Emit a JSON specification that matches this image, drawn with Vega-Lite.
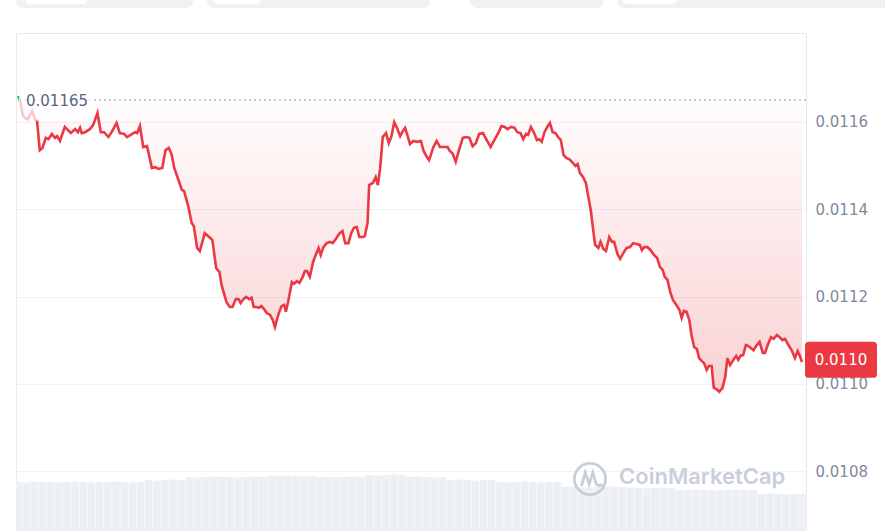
{
"$schema":"https://vega.github.io/schema/vega-lite/v6.json",
"width":790,"height":500,
"autosize":{"type":"none"},
"padding":{"left":16,"top":33,"right":79,"bottom":0},
"background":"#ffffff",
"config":{"view":{"stroke":"#e6e9ee","strokeWidth":1},"font":"DejaVu Sans"},
"datasets":{
"px":[{"t":0,"p":0.011659},{"t":3,"p":0.01165},{"t":4,"p":0.011647},{"t":9,"p":0.011615},{"t":13,"p":0.011608},{"t":18,"p":0.011606},{"t":26,"p":0.011624},{"t":31,"p":0.011606},{"t":35,"p":0.011602},{"t":40,"p":0.011535},{"t":45,"p":0.01154},{"t":51,"p":0.011563},{"t":56,"p":0.01156},{"t":62,"p":0.011572},{"t":68,"p":0.011563},{"t":72,"p":0.011567},{"t":77,"p":0.011556},{"t":86,"p":0.011588},{"t":97,"p":0.011574},{"t":105,"p":0.011583},{"t":110,"p":0.011576},{"t":114,"p":0.011586},{"t":117,"p":0.011574},{"t":123,"p":0.011576},{"t":132,"p":0.011583},{"t":138,"p":0.011592},{"t":146,"p":0.01162},{"t":152,"p":0.011576},{"t":158,"p":0.011576},{"t":166,"p":0.011565},{"t":172,"p":0.011576},{"t":181,"p":0.011597},{"t":187,"p":0.011574},{"t":195,"p":0.011572},{"t":200,"p":0.011565},{"t":207,"p":0.01157},{"t":215,"p":0.011576},{"t":219,"p":0.011574},{"t":224,"p":0.01159},{"t":230,"p":0.011542},{"t":237,"p":0.011544},{"t":246,"p":0.011494},{"t":252,"p":0.011496},{"t":258,"p":0.011492},{"t":265,"p":0.011494},{"t":271,"p":0.011535},{"t":277,"p":0.01154},{"t":282,"p":0.011526},{"t":287,"p":0.011494},{"t":293,"p":0.011473},{"t":301,"p":0.011444},{"t":305,"p":0.011441},{"t":313,"p":0.011405},{"t":319,"p":0.011368},{"t":323,"p":0.011361},{"t":329,"p":0.011311},{"t":334,"p":0.011304},{"t":343,"p":0.011345},{"t":353,"p":0.011334},{"t":357,"p":0.011329},{"t":364,"p":0.011265},{"t":370,"p":0.011256},{"t":374,"p":0.011226},{"t":383,"p":0.011187},{"t":389,"p":0.011176},{"t":394,"p":0.011176},{"t":400,"p":0.011194},{"t":405,"p":0.011194},{"t":409,"p":0.011185},{"t":414,"p":0.011194},{"t":419,"p":0.011199},{"t":425,"p":0.011194},{"t":429,"p":0.011197},{"t":433,"p":0.011176},{"t":438,"p":0.011176},{"t":443,"p":0.011174},{"t":447,"p":0.011178},{"t":452,"p":0.011171},{"t":457,"p":0.011162},{"t":463,"p":0.011158},{"t":468,"p":0.011146},{"t":472,"p":0.01113},{"t":478,"p":0.011158},{"t":484,"p":0.011178},{"t":489,"p":0.011181},{"t":492,"p":0.011165},{"t":496,"p":0.011187},{"t":503,"p":0.011233},{"t":507,"p":0.011229},{"t":512,"p":0.011235},{"t":517,"p":0.011231},{"t":523,"p":0.011245},{"t":527,"p":0.011258},{"t":531,"p":0.011258},{"t":536,"p":0.011245},{"t":542,"p":0.011279},{"t":549,"p":0.011302},{"t":552,"p":0.011311},{"t":556,"p":0.011295},{"t":561,"p":0.011313},{"t":567,"p":0.011322},{"t":573,"p":0.011325},{"t":578,"p":0.011322},{"t":584,"p":0.011332},{"t":591,"p":0.011345},{"t":596,"p":0.01135},{"t":601,"p":0.011322},{"t":607,"p":0.011322},{"t":612,"p":0.011345},{"t":617,"p":0.011357},{"t":622,"p":0.011359},{"t":627,"p":0.011336},{"t":634,"p":0.011336},{"t":637,"p":0.011338},{"t":642,"p":0.011368},{"t":645,"p":0.011455},{"t":652,"p":0.01146},{"t":657,"p":0.011473},{"t":661,"p":0.011455},{"t":665,"p":0.011492},{"t":670,"p":0.011565},{"t":676,"p":0.011574},{"t":681,"p":0.011551},{"t":686,"p":0.011567},{"t":691,"p":0.011599},{"t":696,"p":0.011586},{"t":702,"p":0.011567},{"t":707,"p":0.011579},{"t":711,"p":0.011586},{"t":715,"p":0.01157},{"t":720,"p":0.011549},{"t":726,"p":0.011556},{"t":733,"p":0.011554},{"t":740,"p":0.011556},{"t":745,"p":0.011533},{"t":751,"p":0.011519},{"t":755,"p":0.011512},{"t":763,"p":0.011542},{"t":769,"p":0.011556},{"t":775,"p":0.011542},{"t":781,"p":0.011542},{"t":789,"p":0.011542},{"t":793,"p":0.011533},{"t":798,"p":0.011528},{"t":804,"p":0.011508},{"t":810,"p":0.011535},{"t":817,"p":0.011563},{"t":823,"p":0.011565},{"t":829,"p":0.011563},{"t":835,"p":0.011544},{"t":841,"p":0.011551},{"t":847,"p":0.011572},{"t":854,"p":0.011574},{"t":860,"p":0.01156},{"t":868,"p":0.011542},{"t":876,"p":0.01156},{"t":882,"p":0.011574},{"t":888,"p":0.01159},{"t":894,"p":0.011588},{"t":899,"p":0.011583},{"t":906,"p":0.011588},{"t":912,"p":0.011586},{"t":917,"p":0.011576},{"t":923,"p":0.011574},{"t":928,"p":0.01156},{"t":933,"p":0.011572},{"t":937,"p":0.01157},{"t":942,"p":0.011588},{"t":948,"p":0.011574},{"t":953,"p":0.011558},{"t":957,"p":0.01156},{"t":962,"p":0.011554},{"t":967,"p":0.011576},{"t":972,"p":0.011588},{"t":977,"p":0.011597},{"t":982,"p":0.011576},{"t":987,"p":0.011574},{"t":992,"p":0.011565},{"t":997,"p":0.011558},{"t":1002,"p":0.011524},{"t":1007,"p":0.011517},{"t":1013,"p":0.011514},{"t":1019,"p":0.011506},{"t":1024,"p":0.011499},{"t":1028,"p":0.011503},{"t":1032,"p":0.011483},{"t":1038,"p":0.011473},{"t":1043,"p":0.01146},{"t":1047,"p":0.011432},{"t":1052,"p":0.011398},{"t":1056,"p":0.011357},{"t":1060,"p":0.011318},{"t":1066,"p":0.011311},{"t":1070,"p":0.011325},{"t":1075,"p":0.011309},{"t":1080,"p":0.011304},{"t":1086,"p":0.011336},{"t":1091,"p":0.011325},{"t":1095,"p":0.011325},{"t":1101,"p":0.011297},{"t":1106,"p":0.011286},{"t":1112,"p":0.0113},{"t":1118,"p":0.011311},{"t":1124,"p":0.011313},{"t":1130,"p":0.011322},{"t":1136,"p":0.01132},{"t":1142,"p":0.011318},{"t":1146,"p":0.011306},{"t":1150,"p":0.011313},{"t":1156,"p":0.011313},{"t":1162,"p":0.011306},{"t":1168,"p":0.011295},{"t":1174,"p":0.011288},{"t":1179,"p":0.011268},{"t":1184,"p":0.011261},{"t":1188,"p":0.011245},{"t":1193,"p":0.011238},{"t":1198,"p":0.01121},{"t":1203,"p":0.011192},{"t":1209,"p":0.011181},{"t":1215,"p":0.011169},{"t":1219,"p":0.011151},{"t":1223,"p":0.011167},{"t":1228,"p":0.011165},{"t":1233,"p":0.011146},{"t":1237,"p":0.011112},{"t":1242,"p":0.011084},{"t":1247,"p":0.01108},{"t":1251,"p":0.011059},{"t":1256,"p":0.011052},{"t":1260,"p":0.011048},{"t":1265,"p":0.011032},{"t":1269,"p":0.011041},{"t":1274,"p":0.011041},{"t":1278,"p":0.010991},{"t":1283,"p":0.010988},{"t":1288,"p":0.010982},{"t":1294,"p":0.010991},{"t":1299,"p":0.011016},{"t":1303,"p":0.011059},{"t":1308,"p":0.011043},{"t":1314,"p":0.011055},{"t":1319,"p":0.011064},{"t":1323,"p":0.011055},{"t":1327,"p":0.011064},{"t":1332,"p":0.011066},{"t":1337,"p":0.011089},{"t":1341,"p":0.011087},{"t":1346,"p":0.011082},{"t":1351,"p":0.011077},{"t":1356,"p":0.011087},{"t":1362,"p":0.011096},{"t":1368,"p":0.011071},{"t":1372,"p":0.011071},{"t":1377,"p":0.011089},{"t":1383,"p":0.011107},{"t":1388,"p":0.011103},{"t":1394,"p":0.011112},{"t":1399,"p":0.011107},{"t":1404,"p":0.0111},{"t":1409,"p":0.011103},{"t":1415,"p":0.011089},{"t":1421,"p":0.011077},{"t":1427,"p":0.011059},{"t":1432,"p":0.011075},{"t":1436,"p":0.011064},{"t":1440,"p":0.01105}],
"vol":[{"t":0,"v":102},{"t":15,"v":101},{"t":30,"v":103},{"t":45,"v":102},{"t":60,"v":102},{"t":75,"v":101},{"t":90,"v":102},{"t":105,"v":103},{"t":120,"v":102},{"t":135,"v":101},{"t":150,"v":102},{"t":165,"v":102},{"t":180,"v":103},{"t":195,"v":102},{"t":210,"v":101},{"t":225,"v":102},{"t":240,"v":106},{"t":255,"v":105},{"t":270,"v":106},{"t":285,"v":107},{"t":300,"v":106},{"t":315,"v":112},{"t":330,"v":111},{"t":345,"v":112},{"t":360,"v":113},{"t":375,"v":112},{"t":390,"v":112},{"t":405,"v":111},{"t":420,"v":112},{"t":435,"v":113},{"t":450,"v":112},{"t":465,"v":114},{"t":480,"v":114},{"t":495,"v":115},{"t":510,"v":114},{"t":525,"v":113},{"t":540,"v":114},{"t":555,"v":112},{"t":570,"v":112},{"t":585,"v":111},{"t":600,"v":112},{"t":615,"v":113},{"t":630,"v":112},{"t":645,"v":116},{"t":660,"v":115},{"t":675,"v":116},{"t":690,"v":117},{"t":705,"v":116},{"t":720,"v":112},{"t":735,"v":113},{"t":750,"v":112},{"t":765,"v":111},{"t":780,"v":112},{"t":795,"v":106},{"t":810,"v":107},{"t":825,"v":106},{"t":840,"v":105},{"t":855,"v":106},{"t":870,"v":106},{"t":885,"v":102},{"t":900,"v":101},{"t":915,"v":102},{"t":930,"v":103},{"t":945,"v":102},{"t":960,"v":101},{"t":975,"v":102},{"t":990,"v":102},{"t":1005,"v":92},{"t":1020,"v":93},{"t":1035,"v":92},{"t":1050,"v":91},{"t":1065,"v":92},{"t":1080,"v":92},{"t":1095,"v":93},{"t":1110,"v":92},{"t":1125,"v":91},{"t":1140,"v":90},{"t":1155,"v":89},{"t":1170,"v":90},{"t":1185,"v":91},{"t":1200,"v":90},{"t":1215,"v":86},{"t":1230,"v":86},{"t":1245,"v":87},{"t":1260,"v":86},{"t":1275,"v":85},{"t":1290,"v":86},{"t":1305,"v":86},{"t":1320,"v":87},{"t":1335,"v":86},{"t":1350,"v":86},{"t":1365,"v":78},{"t":1380,"v":79},{"t":1395,"v":78},{"t":1410,"v":77},{"t":1425,"v":78},{"t":1440,"v":78}],
"open":[{"t":0,"p":0.01165,"label":"0.01165"}],
"last":[{"t":1440,"p":0.011055,"label":"0.0110"}],
"logo":[{"t":1050.6,"p":0.0107824}],
"wm":[{"t":1104,"p":0.010787,"label":"CoinMarketCap"}],
"tabs":[{"t1":-3.7,"t2":321.4},{"t1":347.1,"t2":756.7},{"t1":830.2,"t2":1076.3},{"t1":1100.2,"t2":1640}],
"tabsel":[{"t1":12.9,"t2":128.6},{"t1":356.3,"t2":448.2},{"t1":1109.4,"t2":1212.2}]
},
"layer":[
{"data":{"name":"vol"},"mark":{"type":"bar","color":"#eceff3","size":7.6,"clip":true},
 "encoding":{"x":{"field":"t","type":"quantitative","scale":{"domain":[-3.673,1447.35],"nice":false,"zero":false,"padding":0},"axis":null},
 "y":{"field":"v","type":"quantitative","scale":{"domain":[0,1000]},"axis":null}}},
{"data":{"name":"px"},"transform":[{"filter":"datum.t >= 3"}],
 "mark":{"type":"area","clip":true,"color":{"gradient":"linear","x1":0,"y1":0,"x2":0,"y2":1,"stops":[{"offset":0,"color":"rgba(234,57,67,0.01)"},{"offset":1,"color":"rgba(234,57,67,0.23)"}]}},
 "encoding":{"x":{"field":"t","type":"quantitative","axis":null},
  "y":{"field":"p","type":"quantitative","scale":{"domain":[0.0106588,0.011803],"nice":false,"zero":false},
    "axis":{"orient":"right","title":null,"values":[0.0108,0.011,0.0112,0.0114,0.0116],"format":".4f","grid":true,"gridColor":"#eff2f5","gridWidth":1,"domain":false,"ticks":false,"labelPadding":9,"labelFont":"DejaVu Sans","labelFontSize":15,"labelColor":"#7f899c"}},
  "y2":{"datum":0.01165}}},
{"data":{"name":"open"},"mark":{"type":"rule","color":"#a3acba","strokeDash":[2,3],"strokeWidth":1.2},
 "encoding":{"y":{"field":"p","type":"quantitative","scale":{"domain":[0.0106588,0.011803],"nice":false,"zero":false},"axis":null}}},
{"data":{"name":"px"},"transform":[{"filter":"datum.t >= 3"}],
 "mark":{"type":"line","color":"#ea3943","strokeWidth":2.6,"clip":true},
 "encoding":{"x":{"field":"t","type":"quantitative","axis":null},"y":{"field":"p","type":"quantitative","scale":{"domain":[0.0106588,0.011803],"nice":false,"zero":false},"axis":null}}},
{"data":{"name":"px"},"transform":[{"filter":"datum.t <= 3"}],
 "mark":{"type":"line","color":"#16c784","strokeWidth":2.6,"clip":true},
 "encoding":{"x":{"field":"t","type":"quantitative","axis":null},"y":{"field":"p","type":"quantitative","scale":{"domain":[0.0106588,0.011803],"nice":false,"zero":false},"axis":null}}},
{"data":{"name":"open"},
 "mark":{"type":"point","shape":"M-1,-0.575H1V0.575H-1Z","filled":true,"color":"#ffffff","opacity":0.72,"size":5329,"xOffset":37.5,"strokeWidth":0},
 "encoding":{"x":{"field":"t","type":"quantitative","axis":null},"y":{"field":"p","type":"quantitative","scale":{"domain":[0.0106588,0.011803],"nice":false,"zero":false},"axis":null}}},
{"data":{"name":"open"},
 "mark":{"type":"text","align":"left","baseline":"middle","dx":8,"dy":1,"fontSize":15,"color":"#58667e","font":"DejaVu Sans"},
 "encoding":{"x":{"field":"t","type":"quantitative","axis":null},"y":{"field":"p","type":"quantitative","scale":{"domain":[0.0106588,0.011803],"nice":false,"zero":false},"axis":null},"text":{"field":"label"}}},
{"data":{"name":"last"},
 "mark":{"type":"point","shape":"M-0.89,-0.5H0.89Q1,-0.5 1,-0.39V0.39Q1,0.5 0.89,0.5H-0.89Q-1,0.5 -1,0.39V-0.39Q-1,-0.5 -0.89,-0.5Z","filled":true,"color":"#ea3943","opacity":1,"size":5184,"xOffset":39,"strokeWidth":0},
 "encoding":{"x":{"field":"t","type":"quantitative","axis":null},"y":{"field":"p","type":"quantitative","scale":{"domain":[0.0106588,0.011803],"nice":false,"zero":false},"axis":null}}},
{"data":{"name":"last"},
 "mark":{"type":"text","align":"center","baseline":"middle","dx":39,"fontSize":15,"color":"#ffffff","font":"DejaVu Sans"},
 "encoding":{"x":{"field":"t","type":"quantitative","axis":null},"y":{"field":"p","type":"quantitative","scale":{"domain":[0.0106588,0.011803],"nice":false,"zero":false},"axis":null},"text":{"field":"label"}}},
{"data":{"name":"logo"},
 "mark":{"type":"point","shape":"M-0.92,0A0.92,0.92 0 1,0 0.92,0A0.92,0.92 0 1,0 -0.92,0M-0.5,0.42L-0.28,-0.38L-0.05,0.3L0.17,-0.38L0.36,0.28Q0.48,0.46 0.72,0.32","filled":false,"color":"#c8cfda","strokeWidth":2.8,"size":1156,"opacity":1},
 "encoding":{"x":{"field":"t","type":"quantitative","axis":null},"y":{"field":"p","type":"quantitative","scale":{"domain":[0.0106588,0.011803],"nice":false,"zero":false},"axis":null}}},
{"data":{"name":"wm"},
 "mark":{"type":"text","align":"left","baseline":"middle","fontSize":22,"fontWeight":600,"color":"#c8cfda","font":"Inter"},
 "encoding":{"x":{"field":"t","type":"quantitative","axis":null},"y":{"field":"p","type":"quantitative","scale":{"domain":[0.0106588,0.011803],"nice":false,"zero":false},"axis":null},"text":{"field":"label"}}},
{"data":{"name":"tabs"},
 "mark":{"type":"rect","color":"#eff2f5","cornerRadius":7},
 "encoding":{"x":{"field":"t1","type":"quantitative","axis":null},"x2":{"field":"t2"},"y":{"datum":0.0119014,"type":"quantitative","scale":{"domain":[0.0106588,0.011803],"nice":false,"zero":false},"axis":null},"y2":{"datum":0.0118602}}},
{"data":{"name":"tabsel"},
 "mark":{"type":"rect","color":"#ffffff","cornerRadius":6},
 "encoding":{"x":{"field":"t1","type":"quantitative","axis":null},"x2":{"field":"t2"},"y":{"datum":0.0119014,"type":"quantitative","scale":{"domain":[0.0106588,0.011803],"nice":false,"zero":false},"axis":null},"y2":{"datum":0.0118693}}}
],
"resolve":{"scale":{"y":"independent"}}
}
